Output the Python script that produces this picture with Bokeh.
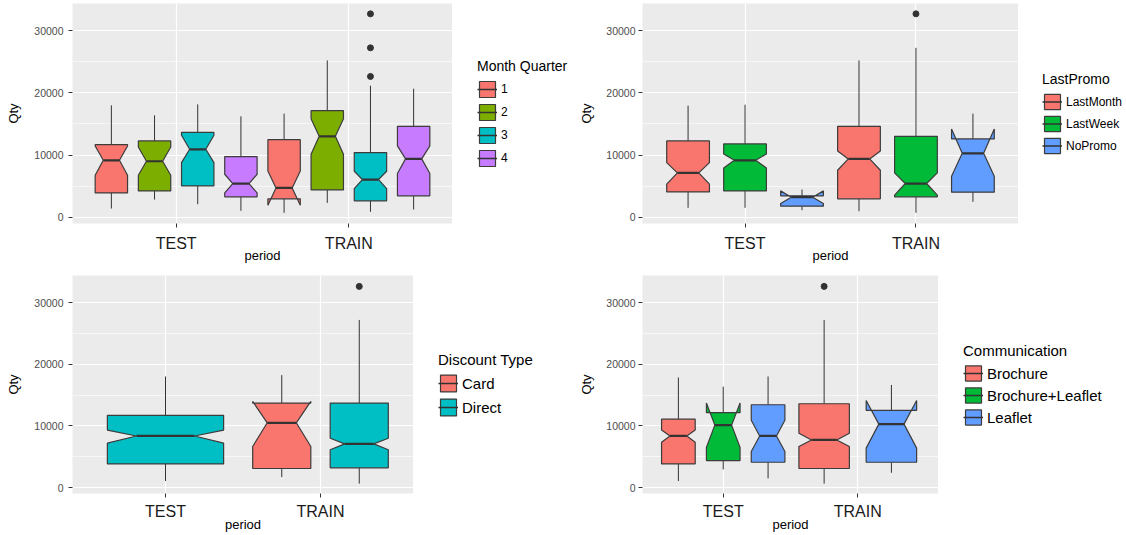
import numpy as np
from bokeh.plotting import figure
from bokeh.models import (Range1d, FixedTicker, Legend, LegendItem, NumeralTickFormatter)
from bokeh.layouts import column, row
from bokeh.embed import file_html
from bokeh.resources import INLINE

periods = ["TEST", "TRAIN"]
FONT = "Liberation Sans"

# ---------------- Panel 1: Month Quarter ----------------
mq_levels = ["1", "2", "3", "4"]
mq_colors = ["#F8766D", "#7CAE00", "#00BFC4", "#C77CFF"]
mq_period = ["TEST", "TEST", "TEST", "TEST", "TRAIN", "TRAIN", "TRAIN", "TRAIN"]
mq_group = ["1", "2", "3", "4", "1", "2", "3", "4"]
mq_wlo = [1440, 2880, 2140, 1070, 750, 2350, 910, 1280]
mq_q1 = [3950, 4270, 5070, 3310, 2990, 4430, 2670, 3470]
mq_nlo = [6780, 6780, 8810, 3950, 1980, 10140, 4640, 7050]
mq_med = [9180, 9020, 10940, 5450, 4750, 13030, 6090, 9400]
mq_nhi = [11480, 11320, 13190, 6940, 7470, 15850, 7420, 11480]
mq_q3 = [11690, 12280, 13670, 9770, 12490, 17140, 10410, 14630]
mq_whi = [17990, 16390, 18150, 16230, 16660, 25200, 21140, 20660]
mq_out_period = ["TRAIN", "TRAIN", "TRAIN"]
mq_out_group = ["3", "3", "3"]
mq_out_val = [22630, 27220, 32670]

# ---------------- Panel 2: LastPromo ----------------
lp_levels = ["LastMonth", "LastWeek", "NoPromo"]
lp_colors = ["#F8766D", "#00BA38", "#619CFF"]
lp_period = ["TEST", "TEST", "TEST", "TRAIN", "TRAIN", "TRAIN"]
lp_group = ["LastMonth", "LastWeek", "NoPromo", "LastMonth", "LastWeek", "NoPromo"]
lp_wlo = [1550, 1550, 1170, 1010, 750, 2510]
lp_q1 = [4110, 4270, 1820, 2990, 3310, 4060]
lp_nlo = [5340, 7950, 2240, 7580, 3580, 6620]
lp_med = [7150, 9180, 3260, 9400, 5450, 10300]
lp_nhi = [8810, 10200, 4270, 10680, 7150, 14200]
lp_q3 = [12280, 11800, 3470, 14630, 13030, 12600]
lp_whi = [17940, 18100, 4480, 25200, 27220, 16660]
lp_out_period = ["TRAIN"]
lp_out_group = ["LastWeek"]
lp_out_val = [32670]

# ---------------- Panel 3: Discount Type ----------------
dt_levels = ["Card", "Direct"]
dt_colors = ["#F8766D", "#00BFC4"]
dt_period = ["TEST", "TRAIN", "TRAIN"]
dt_group = ["Direct", "Card", "Direct"]
dt_wlo = [1070, 1710, 640]
dt_q1 = [3840, 3100, 3200]
dt_nlo = [7210, 6670, 6140]
dt_med = [8380, 10520, 7100]
dt_nhi = [9340, 13990, 8010]
dt_q3 = [11740, 13720, 13720]
dt_whi = [18040, 18260, 27220]
dt_out_period = ["TRAIN"]
dt_out_group = ["Direct"]
dt_out_val = [32670]

# ---------------- Panel 4: Communication ----------------
cm_levels = ["Brochure", "Brochure+Leaflet", "Leaflet"]
cm_colors = ["#F8766D", "#00BA38", "#619CFF"]
cm_period = ["TEST", "TEST", "TEST", "TRAIN", "TRAIN"]
cm_group = ["Brochure", "Brochure+Leaflet", "Leaflet", "Brochure", "Leaflet"]
cm_wlo = [1070, 2940, 1500, 640, 2400]
cm_q1 = [3840, 4380, 4110, 3100, 4110]
cm_nlo = [7370, 6510, 5870, 6670, 6410]
cm_med = [8380, 10140, 8380, 7740, 10300]
cm_nhi = [9340, 13720, 10940, 8810, 14150]
cm_q3 = [11100, 12170, 13450, 13610, 12540]
cm_whi = [17880, 16390, 18040, 27220, 16660]
cm_out_period = ["TRAIN"]
cm_out_group = ["Brochure"]
cm_out_val = [32670]

x_tick_labels = {1: "TEST", 2: "TRAIN"}
y_ticks = [0, 10000, 20000, 30000]
y_minor = [5000, 15000, 25000]


def panel(levels, colors, per, grp, wlo, q1, nlo, med, nhi, q3, whi,
          out_per, out_grp, out_val, title, cfg):
    p = figure(width=cfg["w"], height=cfg["h"],
               x_range=Range1d(0.4, 2.6), y_range=Range1d(*cfg["yr"]),
               output_backend="svg", toolbar_location=None,
               min_border_left=cfg["bl"], min_border_right=0,
               min_border_top=cfg["bt"], min_border_bottom=cfg["bb"])
    p.background_fill_color = "#EBEBEB"
    p.border_fill_color = "white"
    p.outline_line_color = None

    # legend lives in its own small figure; its glyphs reuse the box data but the
    # view range is set where no data falls, so only the legend shows
    lf = figure(width=cfg["lw"], height=cfg["h"], x_range=Range1d(10, 11), y_range=Range1d(-2, -1),
                output_backend="svg", toolbar_location=None,
                min_border_left=0, min_border_right=0,
                min_border_top=cfg["bt"] - cfg["lsh"], min_border_bottom=cfg["bb"] + cfg["lsh"])
    lf.axis.visible = False
    lf.grid.visible = False
    lf.outline_line_color = None
    lf.background_fill_color = "white"
    lf.border_fill_color = "white"

    pos = {}
    for pi, pr in enumerate(periods):
        present = [g for g in levels if any(a == pr and b == g for a, b in zip(per, grp))]
        n = len(present)
        for i, g in enumerate(present):
            pos[(pr, g)] = (pi + 1 + (i - (n - 1) / 2) / n, 0.75 / n)

    wx0, wy0, wx1, wy1 = [], [], [], []
    for k in range(len(per)):
        c, bw = pos[(per[k], grp[k])]
        wx0 += [c, c]; wx1 += [c, c]
        wy0 += [q3[k], q1[k]]; wy1 += [whi[k], wlo[k]]
    p.segment(x0=wx0, y0=wy0, x1=wx1, y1=wy1, line_color="#333333", line_width=1)

    items = []
    for lev, col in zip(levels, colors):
        xs, ys, mx0, mx1, my = [], [], [], [], []
        for k in range(len(per)):
            if grp[k] != lev:
                continue
            c, bw = pos[(per[k], grp[k])]
            xmin, xmax = c - bw / 2, c + bw / 2
            nxmin, nxmax = c - bw / 4, c + bw / 4
            xs.append([xmin, xmin, nxmin, xmin, xmin, xmax, xmax, nxmax, xmax, xmax])
            ys.append([q3[k], nhi[k], med[k], nlo[k], q1[k], q1[k], nlo[k], med[k], nhi[k], q3[k]])
            mx0.append(nxmin); mx1.append(nxmax); my.append(med[k])
        p.patches(xs=xs, ys=ys, fill_color=col, line_color="#3C3C3C", line_width=1.2)
        p.segment(x0=mx0, y0=my, x1=mx1, y1=my, line_color="#333333", line_width=2.2)
        l1 = lf.patches(xs=xs, ys=ys, fill_color=col, line_color="#3C3C3C", line_width=1.2)
        l2 = lf.segment(x0=mx0, y0=my, x1=mx1, y1=my, line_color="#333333", line_width=1.5)
        items.append(LegendItem(label=lev, renderers=[l1, l2]))

    if out_val:
        ox = [pos[(a, b)][0] for a, b in zip(out_per, out_grp)]
        p.scatter(x=ox, y=out_val, size=6, color="#333333")

    p.xaxis.ticker = FixedTicker(ticks=[1, 2])
    p.xaxis.major_label_overrides = x_tick_labels
    p.yaxis.ticker = FixedTicker(ticks=y_ticks, minor_ticks=y_minor)
    p.yaxis.formatter = NumeralTickFormatter(format="0")
    for ax in (p.xaxis[0], p.yaxis[0]):
        ax.axis_line_color = None
        ax.major_tick_line_color = "#333333"
        ax.major_tick_out = 4
        ax.major_tick_in = 0
        ax.minor_tick_line_color = None
        ax.axis_label_text_font = FONT
        ax.axis_label_text_font_style = "normal"
        ax.axis_label_text_font_size = "13px"
        ax.axis_label_text_color = "#000000"
        ax.major_label_text_font = FONT
    p.xaxis.axis_label = "period"
    p.yaxis.axis_label = "Qty"
    p.xaxis.major_label_text_font_size = "16px"
    p.xaxis.major_label_text_color = "#1A1A1A"
    p.xaxis.major_label_standoff = cfg["xls"]
    p.xaxis.axis_label_standoff = cfg["xas"]
    p.yaxis.major_label_text_font_size = "10.5px"
    p.yaxis.major_label_text_color = "#4D4D4D"
    p.yaxis.major_label_standoff = cfg["yls"]
    p.yaxis.axis_label_standoff = cfg["yas"]

    p.xgrid.grid_line_color = "white"
    p.xgrid.grid_line_width = 1.2
    p.ygrid.grid_line_color = "white"
    p.ygrid.grid_line_width = 1.2
    p.ygrid.minor_grid_line_color = "white"
    p.ygrid.minor_grid_line_width = 0.6

    legend = Legend(items=items, title=title, location="left", orientation="vertical",
                    margin=cfg["lm"], padding=0, spacing=cfg["lsp"],
                    glyph_width=20, glyph_height=cfg["gh"], label_height=cfg["gh"],
                    label_standoff=4, title_standoff=5,
                    label_text_font=FONT, title_text_font=FONT,
                    label_text_font_size=cfg["lfs"], title_text_font_size=cfg["tfs"],
                    title_text_font_style="normal", label_text_color="#000000",
                    title_text_color="#000000",
                    background_fill_alpha=0, border_line_alpha=0)
    lf.add_layout(legend)
    return row(p, lf, spacing=0)


top_yr = (-963, 34332)
bot_yr = (-961, 34436)

r1 = panel(mq_levels, mq_colors, mq_period, mq_group, mq_wlo, mq_q1, mq_nlo, mq_med,
           mq_nhi, mq_q3, mq_whi, mq_out_period, mq_out_group, mq_out_val, "Month Quarter",
           dict(w=452, lw=124, h=270, yr=top_yr, bl=72, bt=3, bb=47, xls=7, xas=-7,
                yls=5, yas=10, lm=25, lsp=3, gh=20, lfs="12px", tfs="14px", lsh=0))
r2 = panel(lp_levels, lp_colors, lp_period, lp_group, lp_wlo, lp_q1, lp_nlo, lp_med,
           lp_nhi, lp_q3, lp_whi, lp_out_period, lp_out_group, lp_out_val, "LastPromo",
           dict(w=442, lw=108, h=270, yr=top_yr, bl=63, bt=3, bb=47, xls=7, xas=-7,
                yls=3, yas=9, lm=24, lsp=3, gh=19, lfs="12px", tfs="14px", lsh=0))
r3 = panel(dt_levels, dt_colors, dt_period, dt_group, dt_wlo, dt_q1, dt_nlo, dt_med,
           dt_nhi, dt_q3, dt_whi, dt_out_period, dt_out_group, dt_out_val, "Discount Type",
           dict(w=413, lw=163, h=265, yr=bot_yr, bl=72, bt=5, bb=39, xls=5, xas=-6,
                yls=5, yas=10, lm=25, lsp=3, gh=21, lfs="15px", tfs="15px", lsh=3))
r4 = panel(cm_levels, cm_colors, cm_period, cm_group, cm_wlo, cm_q1, cm_nlo, cm_med,
           cm_nhi, cm_q3, cm_whi, cm_out_period, cm_out_group, cm_out_val, "Communication",
           dict(w=362, lw=188, h=265, yr=bot_yr, bl=63, bt=5, bb=39, xls=5, xas=-6,
                yls=3, yas=9, lm=25, lsp=3, gh=19, lfs="15px", tfs="15px", lsh=3))

layout = column(row(r1, r2, spacing=0), row(r3, r4, spacing=0), spacing=0)
open("out.html", "w").write(file_html(layout, INLINE))
